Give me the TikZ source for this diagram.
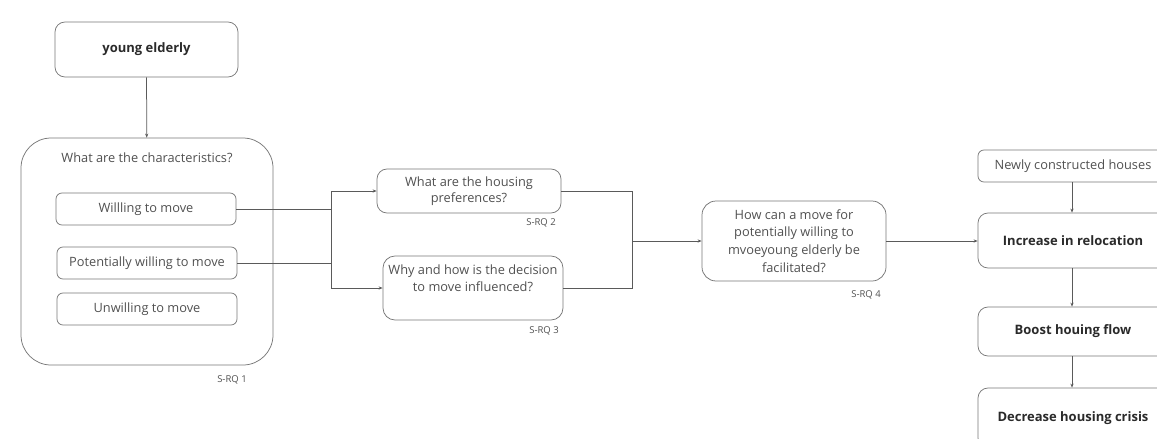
\documentclass[tikz,border=0pt]{standalone}
\usepackage{fontspec}
\setmainfont{Open Sans}
\usetikzlibrary{arrows.meta}
\definecolor{txt}{HTML}{505050}
\definecolor{btxt}{HTML}{2A2A2A}
\definecolor{ln}{HTML}{5A5A5A}
\definecolor{bd}{HTML}{777777}
\begin{document}
\begin{tikzpicture}[x=1pt,y=-1pt,
  box/.style={draw=bd,line width=0.75pt,rounded corners=#1,inner sep=0pt,text=txt,align=center,
    font=\fontsize{12.8}{16.5}\selectfont},
  box/.default=8pt,
  bbox/.style={box=10pt,text=btxt,font=\fontsize{13}{16}\selectfont\bfseries},
  plain/.style={inner sep=0pt,text=txt,align=center,font=\fontsize{12.8}{16.5}\selectfont},
  tag/.style={inner sep=0pt,text=txt,font=\fontsize{9.5}{11}\selectfont},
  conn/.style={draw=ln,line width=0.75pt},
  arr/.style={conn,-{Stealth[length=4pt,width=3.2pt]}}]
\useasboundingbox (0,0) rectangle (1157,439);
\clip (0,0) rectangle (1157,439);
% left column
\node[bbox,minimum width=183pt,minimum height=55pt] (ye) at (146.5,49.5) {young elderly};
\node[box=30pt,minimum width=252pt,minimum height=227pt] (big) at (147,251.5) {};
\node[plain] (charq) at (147,158) {What are the characteristics?};
\node[box=6pt,minimum width=180pt,minimum height=32pt] (w1) at (146,209) {Willling to move};
\node[box=6pt,minimum width=180pt,minimum height=32pt] (w2) at (147,263) {Potentially willing to move};
\node[box=6pt,minimum width=180pt,minimum height=32pt] (w3) at (147,309) {Unwilling to move};
\node[tag] (t1) at (232,380) {S-RQ 1};
% middle
\node[box=10pt,minimum width=184pt,minimum height=44pt] (b2) at (469,191) {What are the housing\\preferences?};
\node[tag] (t2) at (541,223) {S-RQ 2};
\node[box=12pt,minimum width=180pt,minimum height=64pt] (b3) at (473,288) {};
\node[plain] (b3t) at (473,278) {Why and how is the decision\\to move influenced?};
\node[tag] (t3) at (544,331) {S-RQ 3};
\node[box=14pt,minimum width=184pt,minimum height=80pt,font=\fontsize{12.8}{17.7}\selectfont] (b4) at (794,241)
  {How can a move for\\potentially willing to\\mvoeyoung elderly be\\facilitated?};
\node[tag] (t4) at (866,295) {S-RQ 4};
% right column
\node[box=6pt,minimum width=190pt,minimum height=32pt] (nc) at (1073,166) {Newly constructed houses};
\node[bbox,minimum width=190pt,minimum height=55pt] (inc) at (1073,240.5) {Increase in relocation};
\node[bbox,minimum width=190pt,minimum height=49pt] (bst) at (1073,331.5) {Boost houing flow};
\node[bbox,minimum width=190pt,minimum height=60pt] (dec) at (1073,418) {Decrease housing crisis};
% junctions
\coordinate (j1) at (331,0);
\coordinate (j2) at (632,0);
\coordinate (jc) at (1072,0);
% connectors
\draw[arr] (ye) -- (big);
\draw[conn] (w1.east) -- (j1 |- w1.east);
\draw[conn] (w2.east) -- (j1 |- w2.east);
\draw[conn] (j1 |- b2.west) -- (j1 |- b3.west);
\draw[arr] (j1 |- b2.west) -- (b2.west);
\draw[arr] (j1 |- b3.west) -- (b3.west);
\draw[conn] (b2.east) -- (j2 |- b2.east) -- (j2 |- b3.east) -- (b3.east);
\draw[arr] (j2 |- b4.west) -- (b4.west);
\draw[arr] (b4.east) -- (b4.east -| inc.west);
\draw[arr] (jc |- nc.south) -- (jc |- inc.north);
\draw[arr] (jc |- inc.south) -- (jc |- bst.north);
\draw[arr] (jc |- bst.south) -- (jc |- dec.north);
\end{tikzpicture}
\end{document}
